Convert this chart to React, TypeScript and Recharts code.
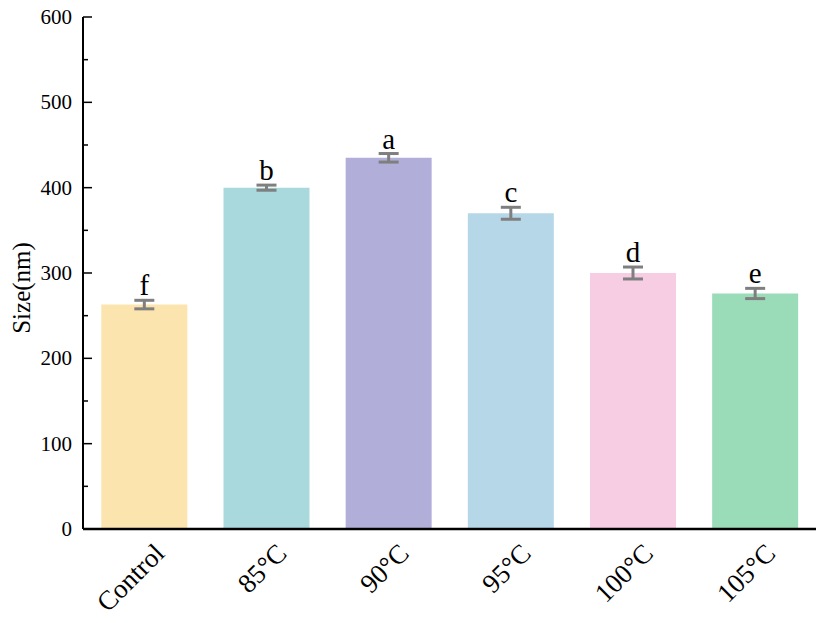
import { BarChart, Bar, XAxis, YAxis, ErrorBar, LabelList, Cell } from "recharts"

const categories = ["Control", "85°C", "90°C", "95°C", "100°C", "105°C"]
const sizes = [263, 400, 435, 370, 300, 276]
const errors = [5, 3, 5, 7, 7, 6]
const letters = ["f", "b", "a", "c", "d", "e"]
const yTicks = [0, 50, 100, 150, 200, 250, 300, 350, 400, 450, 500, 550, 600]

const COLORS = ["#fbe4ae", "#a9d9dd", "#b1afd9", "#b6d7e8", "#f7cde3", "#9bdcb8"]
const serif = { fontFamily: "'Liberation Serif', 'Times New Roman', serif" }

const data = categories.map((name, i) => ({
  name,
  size: sizes[i],
  err: errors[i],
  sig: letters[i],
}))

// inward ticks, majors labelled
const YTick = (props: any) => {
  const { x, y, payload } = props
  const major = payload.value % 100 === 0
  return (
    <g>
      <line x1={x} y1={y} x2={x + (major ? 9 : 5)} y2={y} stroke="#000" strokeWidth={1.5} />
      {major && (
        <text x={x - 11} y={y} dy={7} textAnchor="end" fontSize={21} style={serif} fill="#000">
          {payload.value}
        </text>
      )}
    </g>
  )
}

const XTick = (props: any) => {
  const { x, y, payload } = props
  const px = x + 22
  const py = y + 18
  return (
    <text
      x={px}
      y={py}
      textAnchor="end"
      fontSize={27}
      style={serif}
      fill="#000"
      transform={`rotate(-45, ${px}, ${py})`}
    >
      {payload.value}
    </text>
  )
}

const SigLabel = (props: any) => {
  const { x, y, width, height, index, value } = props
  const errPx = (errors[index] * height) / sizes[index]
  return (
    <text x={x + width / 2} y={y - errPx - 5} textAnchor="middle" fontSize={29} style={serif} fill="#000">
      {value}
    </text>
  )
}

export default function App() {
  return (
    <div style={{ position: "absolute", left: 0, top: 0, width: 819, height: 623, background: "#fff" }}>
      <BarChart width={819} height={623} data={data} margin={{ top: 17, right: 3, bottom: 0, left: 0 }} barCategoryGap="15%">
        <XAxis
          dataKey="name"
          height={94}
          axisLine={{ stroke: "#000", strokeWidth: 2.5 }}
          tickLine={false}
          tick={<XTick />}
          interval={0}
        />
        <YAxis
          width={83}
          domain={[0, 600]}
          ticks={yTicks}
          interval={0}
          tickSize={0}
          tickMargin={0}
          tickLine={false}
          axisLine={{ stroke: "#000", strokeWidth: 2 }}
          tick={<YTick />}
          label={{
            content: () => (
              <text x={30} y={288} textAnchor="middle" fontSize={25} style={serif} fill="#000" transform="rotate(-90, 30, 288)">
                Size(nm)
              </text>
            ),
          }}
        />
        <Bar dataKey="size" isAnimationActive={false}>
          {data.map((d, i) => (
            <Cell key={d.name} fill={COLORS[i]} />
          ))}
          <ErrorBar dataKey="err" width={10} stroke="#7f7f7f" strokeWidth={3} isAnimationActive={false} />
          <LabelList dataKey="sig" content={<SigLabel />} />
        </Bar>
      </BarChart>
    </div>
  )
}
